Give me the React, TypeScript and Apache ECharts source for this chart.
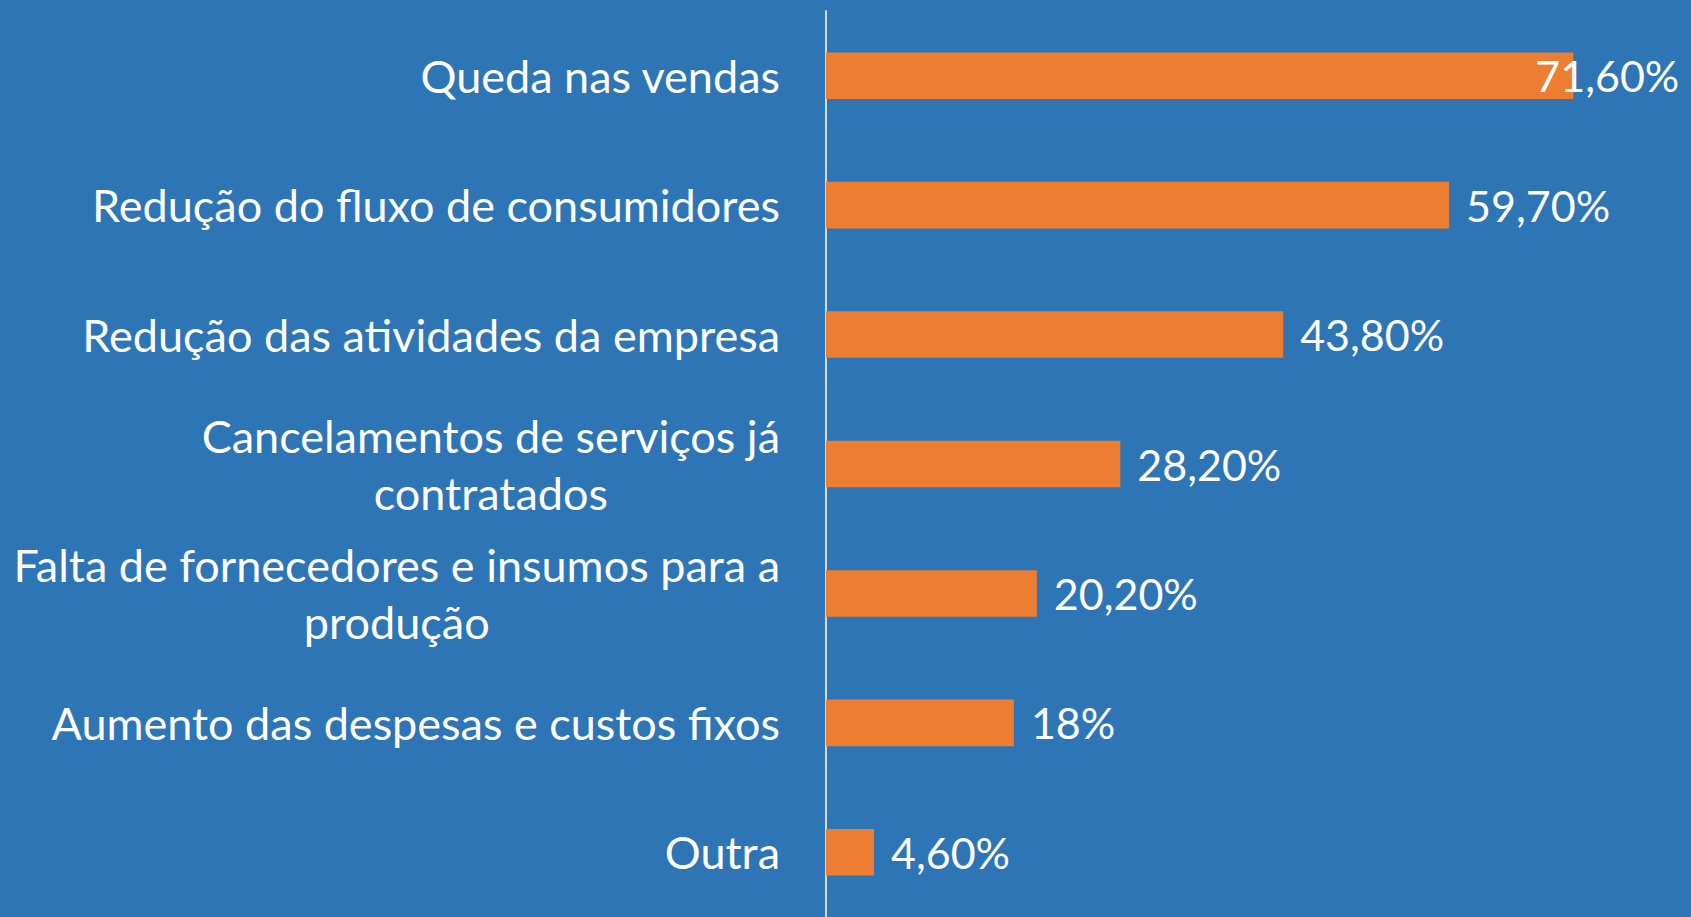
import React, { useEffect, useRef } from "react";
import * as echarts from "echarts";

const categories: string[] = [
  "Queda nas vendas",
  "Redução do fluxo de consumidores",
  "Redução das atividades da empresa",
  "Cancelamentos de serviços já\ncontratados",
  "Falta de fornecedores e insumos para a\nprodução",
  "Aumento das despesas e custos fixos",
  "Outra",
];
const values: number[] = [71.6, 59.7, 43.8, 28.2, 20.2, 18, 4.6];

const FONT = "Lato";
const FS = 45;
const VFS = 43;

function fmt(v: number): string {
  if (Number.isInteger(v)) return `${v}%`;
  return v.toFixed(2).replace(".", ",") + "%";
}

function measure(t: string): number {
  const c = document.createElement("canvas");
  const ctx = c.getContext("2d")!;
  ctx.font = `${FS}px ${FONT}`;
  return ctx.measureText(t).width;
}

export default function App() {
  const ref = useRef<HTMLDivElement>(null);
  useEffect(() => {
    if (!ref.current) return;
    const chart = echarts.init(ref.current, null, { renderer: "svg" });
    const rich: Record<string, any> = {};
    const catKeys: Record<string, string> = {};
    categories.forEach((c, i) => {
      const lines = c.split("\n");
      if (lines.length > 1) {
        const w = Math.max(...lines.map(measure));
        const parts = lines.map((l, j) => {
          const key = `c${i}_${j}`;
          rich[key] = {
            width: w,
            align: "center",
            color: "#ffffff",
            fontSize: FS,
            fontFamily: FONT,
            lineHeight: 57,
          };
          return `{${key}|${l}}`;
        });
        catKeys[c] = parts.join("\n");
      } else {
        catKeys[c] = c;
      }
    });
    chart.setOption({
      animation: false,
      backgroundColor: "#2E75B6",
      grid: { left: 826, right: 30, top: 11, bottom: 0, containLabel: false },
      xAxis: {
        type: "value",
        min: 0,
        max: 80,
        show: false,
        splitLine: { show: false },
      },
      yAxis: {
        type: "category",
        inverse: true,
        data: categories,
        axisLine: { show: true, lineStyle: { color: "#D0D8E0", width: 2 } },
        axisTick: { show: false },
        axisLabel: {
          color: "#ffffff",
          fontSize: FS,
          fontFamily: FONT,
          margin: 46,
          lineHeight: 57,
          formatter: (v: string) => catKeys[v],
          rich,
        },
      },
      series: [
        {
          type: "bar",
          data: values.map((v, i) =>
            i === 0
              ? { value: v, label: { offset: [-55, 0] } }
              : { value: v }
          ),
          barCategoryGap: "64%",
          itemStyle: { color: "#ED7D31" },
          label: {
            show: true,
            position: "right",
            distance: 17,
            color: "#ffffff",
            fontSize: VFS,
            fontFamily: FONT,
            formatter: (p: any) => fmt(p.value),
          },
        },
      ],
    });
    return () => chart.dispose();
  }, []);
  return (
    <div
      ref={ref}
      style={{ position: "fixed", left: 0, top: 0, width: 1691, height: 917 }}
    />
  );
}
